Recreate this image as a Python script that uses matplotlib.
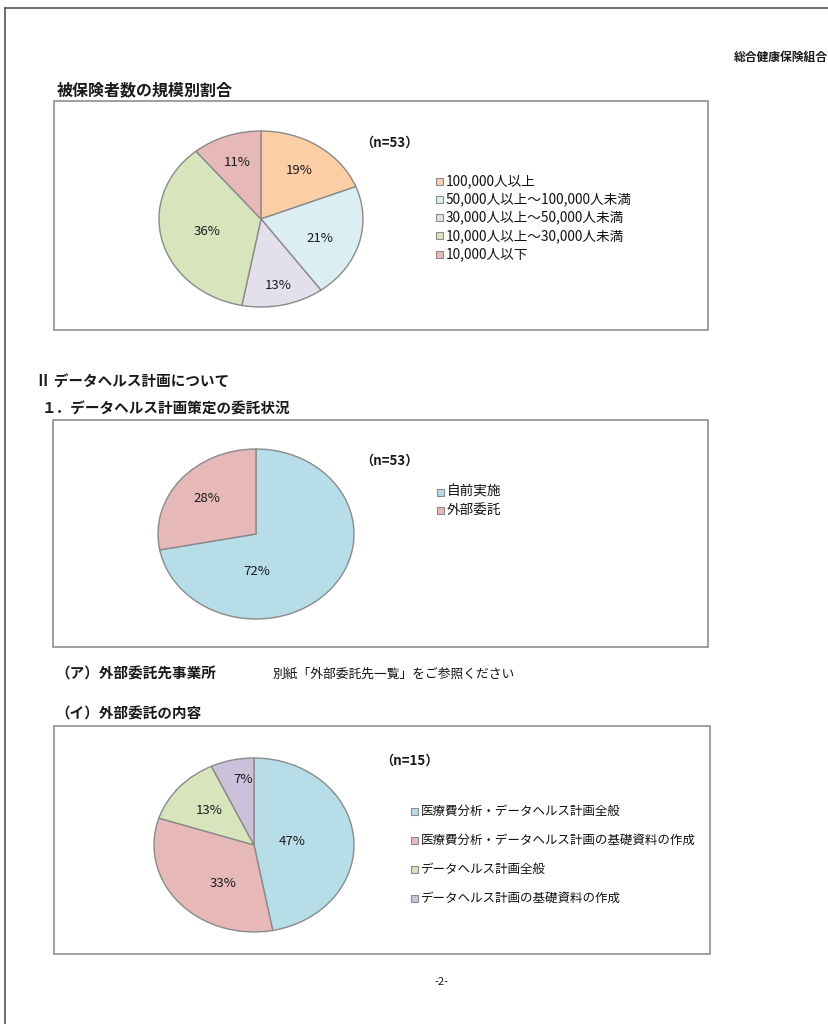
import matplotlib
matplotlib.use('Agg')
import matplotlib.pyplot as plt
from matplotlib.patches import Rectangle
import numpy as np

plt.rcParams['font.family'] = ['Noto Sans CJK JP', 'DejaVu Sans']

W, H = 829, 1024

# 被保険者数の規模別割合
size_labels = ['100,000人以上', '50,000人以上～100,000人未満', '30,000人以上～50,000人未満',
               '10,000人以上～30,000人未満', '10,000人以下']
size_pct = [19, 21, 13, 36, 11]
size_n = 53

# データヘルス計画策定の委託状況
plan_labels = ['自前実施', '外部委託']
plan_pct = [72, 28]
plan_n = 53

# 外部委託の内容
content_labels = ['医療費分析・データヘルス計画全般', '医療費分析・データヘルス計画の基礎資料の作成',
                  'データヘルス計画全般', 'データヘルス計画の基礎資料の作成']
content_pct = [47, 33, 13, 7]
content_n = 15

size_colors = ['#FBCEA6', '#DAEEF3', '#E4DFEC', '#D8E4BC', '#E6B9B8']
plan_colors = ['#B7DEE8', '#E6B9B8']
content_colors = ['#B7DEE8', '#E6B9B8', '#D8E4BC', '#CCC1DA']

EDGE = '#8a8a8a'
TXT = '#1a1a1a'

fig = plt.figure(figsize=(W / 100, H / 100), dpi=100)
bg = fig.add_axes([0, 0, 1, 1])
bg.set_xlim(0, W)
bg.set_ylim(H, 0)
bg.axis('off')

# ページ枠
bg.plot([5, W], [8, 8], color='#555555', lw=1.2)
bg.plot([5, 5], [8, H], color='#555555', lw=1.2)


def box(x0, y0, x1, y1):
    bg.add_patch(Rectangle((x0, y0), x1 - x0, y1 - y0, fill=False, ec='#8f8f8f', lw=1.2))


def draw_pie(cx, cy, rx, ry, vals, colors, lbl_pos):
    pad = 1.03
    ax = fig.add_axes([(cx - rx * pad) / W, 1 - (cy + ry * pad) / H, 2 * rx * pad / W, 2 * ry * pad / H])
    wedges, _ = ax.pie(vals, colors=colors, startangle=90, counterclock=False,
                       wedgeprops=dict(edgecolor=EDGE, linewidth=1.0))
    ax.set_aspect('auto')
    ax.set_xlim(-pad, pad)
    ax.set_ylim(-pad, pad)
    ax.axis('off')
    for w, v, (r, dth) in zip(wedges, vals, lbl_pos):
        th = np.deg2rad((w.theta1 + w.theta2) / 2 + dth)
        ax.text(r * np.cos(th), r * np.sin(th), '%d%%' % v, ha='center', va='center',
                fontsize=9.5, color=TXT)
    return wedges


def legend(x, y0, dy, labels, colors, fs):
    for i, (lab, c) in enumerate(zip(labels, colors)):
        y = y0 + i * dy
        bg.add_patch(Rectangle((x, y - 3.5), 7, 7, fc=c, ec='#8a8a8a', lw=0.8))
        bg.text(x + 10, y, lab, ha='left', va='center', fontsize=fs, color='#111111')


# ヘッダー
bg.text(828, 57, '総合健康保険組合', ha='right', va='center', fontsize=8.5, color=TXT, fontweight='bold')

# 1つ目
bg.text(57, 90, '被保険者数の規模別割合', ha='left', va='center', fontsize=11.5, color=TXT, fontweight='bold')
box(54, 101, 708, 330)
draw_pie(261, 219, 102, 88, size_pct, size_colors,
         [(0.66, 0), (0.62, -5), (0.78, 0), (0.55, 0), (0.68, 0)])
bg.text(389, 143, '（n=%d）' % size_n, ha='center', va='center', fontsize=9.5, color=TXT, fontweight='bold')
legend(436, 181, 18.3, size_labels, size_colors, 9.8)

# 2つ目
bg.text(36, 382, 'Ⅱ データヘルス計画について', ha='left', va='center', fontsize=10.5, color=TXT, fontweight='bold')
bg.text(42, 409, '１．データヘルス計画策定の委託状況', ha='left', va='center', fontsize=10.5, color=TXT,
        fontweight='bold')
box(53, 420, 708, 647)
draw_pie(256, 534, 98, 85, plan_pct, plan_colors, [(0.44, -50), (0.65, 0)])
bg.text(389, 461, '（n=%d）' % plan_n, ha='center', va='center', fontsize=9.5, color=TXT, fontweight='bold')
legend(437, 492, 18.3, plan_labels, plan_colors, 9.8)

bg.text(55, 674, '（ア）外部委託先事業所', ha='left', va='center', fontsize=10.5, color=TXT, fontweight='bold')
bg.text(273, 674, '別紙「外部委託先一覧」をご参照ください', ha='left', va='center', fontsize=9.2, color='#111111')

# 3つ目
bg.text(55, 714, '（イ）外部委託の内容', ha='left', va='center', fontsize=10.5, color=TXT, fontweight='bold')
box(54, 726, 710, 954)
draw_pie(254, 845, 100, 87, content_pct, content_colors,
         [(0.38, 0), (0.54, 14), (0.6, 0), (0.76, -4)])
bg.text(410, 761, '（n=%d）' % content_n, ha='center', va='center', fontsize=9.5, color=TXT, fontweight='bold')
legend(411, 811, 29, content_labels, content_colors, 9.0)

bg.text(441, 982, '-2-', ha='center', va='center', fontsize=8, color=TXT)

fig.savefig('out.png', dpi=100)
